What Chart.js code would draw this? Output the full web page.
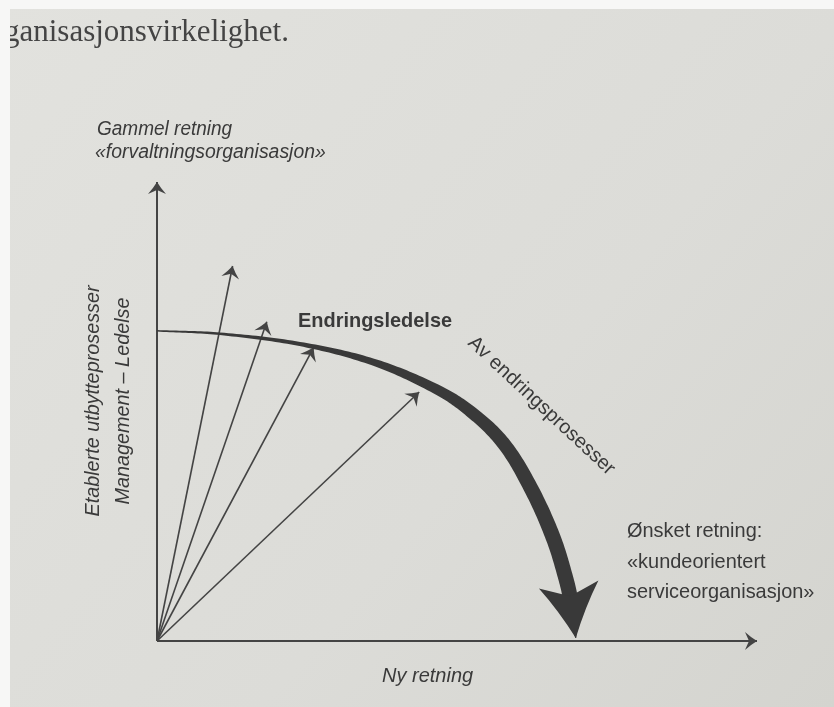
<!DOCTYPE html>
<html>
<head>
<meta charset="utf-8">
<script src="https://cdn.jsdelivr.net/npm/chart.js@4.4.0/dist/chart.umd.min.js"></script>
<style>
html, body { margin: 0; padding: 0; background: #dfdfdb; }
#wrap { width: 834px; height: 707px; position: relative; }
</style>
</head>
<body>
<div id="wrap"><canvas id="figur"></canvas></div>
<script>
// akser (lengde i skalaens enheter)
var aksX = [0, 100];
var aksY = [0, 76.5];
// tynne piler fra origo, endepunkt
var pilX = [12.6, 18.3, 26.1, 43.7];
var pilY = [62.5, 53.2, 48.9, 41.5];
// den tykke buede pilen (endringsprosesser)
var kurveX = [0, 10.5, 23.8, 36, 46.5, 52.2, 57.7, 62.2, 66, 68.2, 69, 69.8];
var kurveY = [51.7, 51.2, 49.5, 46.5, 42, 38.3, 33, 25.7, 17.3, 10.2, 6.5, 0.5];
// tekster
var tittel = 'ganisasjonsvirkelighet.';
var yTekst = ['Gammel retning', '\u00abforvaltningsorganisasjon\u00bb'];
var yAkseTekst = ['Etablerte utbytteprosesser', 'Management \u2013 Ledelse'];
var kurveTekst = 'Endringsledelse';
var prosessTekst = 'Av endringsprosesser';
var maalTekst = ['\u00d8nsket retning:', '\u00abkundeorientert', 'serviceorganisasjon\u00bb'];
var xTekst = 'Ny retning';

// strektykkelse (px) i hvert kurvepunkt
var kurveBredde = [1.6, 2.6, 4.2, 7, 10, 12, 13.5, 14.5, 15, 15, 15, 1];

var strek = '#444444';
var mork = '#393939';
var tekstFarge = '#3a3a3a';

function punkter(xs, ys) {
  return xs.map(function(x, i) { return {x: x, y: ys[i]}; });
}

var datasets = [];
datasets.push({ data: [{x: aksX[0], y: 0}, {x: aksX[1], y: 0}], borderColor: strek, borderWidth: 2, spiss: {l: 12, b: 9, h: 4} });
datasets.push({ data: [{x: 0, y: aksY[0]}, {x: 0, y: aksY[1]}], borderColor: strek, borderWidth: 2, spiss: {l: 12, b: 9, h: 4} });
pilX.forEach(function(x, i) {
  datasets.push({ data: [{x: 0, y: 0}, {x: x, y: pilY[i]}], borderColor: strek, borderWidth: 1.6, spiss: {l: 12, b: 9, h: 4} });
});
datasets.push({
  data: punkter(kurveX, kurveY),
  borderColor: mork,
  borderWidth: 0,
  tension: 0.35,
  baand: kurveBredde,
  spiss: {l: 54, b: 30, h: 12}
});
datasets.forEach(function(d) {
  d.showLine = true;
  d.pointRadius = 0;
  d.pointHoverRadius = 0;
  d.clip = false;
  d.fill = false;
});

function pilspiss(ctx, x, y, vinkel, s, farge) {
  ctx.save();
  ctx.translate(x, y);
  ctx.rotate(vinkel);
  ctx.beginPath();
  ctx.moveTo(0, 0);
  ctx.quadraticCurveTo(-s.l * 0.55, s.b * 0.45, -s.l, s.b);
  ctx.lineTo(-s.l + s.h, 0);
  ctx.lineTo(-s.l, -s.b);
  ctx.quadraticCurveTo(-s.l * 0.55, -s.b * 0.45, 0, 0);
  ctx.closePath();
  ctx.fillStyle = farge;
  ctx.fill();
  ctx.restore();
}

// tykkelse som vokser langs linjen: følg bezier-kurvene som Chart.js har regnet ut
function baand(ctx, pts, bredde, farge) {
  var venstre = [], hoyre = [];
  for (var i = 0; i < pts.length - 1; i++) {
    var a = pts[i], b = pts[i + 1];
    var c1x = a.cp2x !== undefined ? a.cp2x : a.x, c1y = a.cp2y !== undefined ? a.cp2y : a.y;
    var c2x = b.cp1x !== undefined ? b.cp1x : b.x, c2y = b.cp1y !== undefined ? b.cp1y : b.y;
    for (var k = 0; k <= 20; k++) {
      if (i > 0 && k === 0) continue;
      var t = k / 20, u = 1 - t;
      var x = u*u*u*a.x + 3*u*u*t*c1x + 3*u*t*t*c2x + t*t*t*b.x;
      var y = u*u*u*a.y + 3*u*u*t*c1y + 3*u*t*t*c2y + t*t*t*b.y;
      var dx = 3*u*u*(c1x - a.x) + 6*u*t*(c2x - c1x) + 3*t*t*(b.x - c2x);
      var dy = 3*u*u*(c1y - a.y) + 6*u*t*(c2y - c1y) + 3*t*t*(b.y - c2y);
      var n = Math.sqrt(dx*dx + dy*dy) || 1;
      var w = (bredde[i] + (bredde[i + 1] - bredde[i]) * t) / 2;
      venstre.push([x - dy / n * w, y + dx / n * w]);
      hoyre.push([x + dy / n * w, y - dx / n * w]);
    }
  }
  ctx.save();
  ctx.beginPath();
  ctx.moveTo(venstre[0][0], venstre[0][1]);
  venstre.forEach(function(p) { ctx.lineTo(p[0], p[1]); });
  for (var j = hoyre.length - 1; j >= 0; j--) ctx.lineTo(hoyre[j][0], hoyre[j][1]);
  ctx.closePath();
  ctx.fillStyle = farge;
  ctx.fill();
  ctx.restore();
}

function tekst(ctx, s, x, y, font, opt) {
  opt = opt || {};
  ctx.save();
  ctx.translate(x, y);
  if (opt.rot) ctx.rotate(opt.rot);
  ctx.scale(opt.sx || 1, 1);
  ctx.font = font;
  ctx.fillStyle = opt.farge || tekstFarge;
  ctx.textAlign = opt.align || 'left';
  ctx.textBaseline = 'alphabetic';
  ctx.fillText(s, 0, 0);
  ctx.restore();
}

var figurPlugin = {
  id: 'figur',
  beforeDraw: function(chart) {
    var ctx = chart.ctx;
    var g = ctx.createLinearGradient(0, 0, chart.width, chart.height);
    g.addColorStop(0, '#e2e2de');
    g.addColorStop(0.6, '#dcdcd8');
    g.addColorStop(1, '#d4d4cf');
    ctx.save();
    ctx.fillStyle = g;
    ctx.fillRect(0, 0, chart.width, chart.height);
    ctx.restore();
  },
  afterDatasetsDraw: function(chart) {
    var ctx = chart.ctx;
    chart.data.datasets.forEach(function(d, i) {
      var pts = chart.getDatasetMeta(i).data;
      if (d.baand) baand(ctx, pts, d.baand, d.borderColor);
      if (!d.spiss) return;
      var a = pts[pts.length - 2], b = pts[pts.length - 1];
      var v = Math.atan2(b.y - a.y, b.x - a.x);
      pilspiss(ctx, b.x, b.y, v, d.spiss, d.borderColor);
    });
  },
  afterDraw: function(chart) {
    var ctx = chart.ctx;
    var sans = '"Liberation Sans", Arial, sans-serif';
    tekst(ctx, tittel, 4, 41, '31px "Liberation Serif", serif', {farge: '#444444'});
    // hvit kant fra fotografiet
    ctx.save();
    ctx.fillStyle = '#f7f7f6';
    ctx.fillRect(0, 0, chart.width, 9);
    ctx.fillRect(0, 0, 10, chart.height);
    ctx.restore();

    tekst(ctx, yTekst[0], 97, 135, 'italic 20px ' + sans, {sx: 0.95});
    tekst(ctx, yTekst[1], 95, 158, 'italic 20px ' + sans, {sx: 0.97});
    tekst(ctx, yAkseTekst[0], 99, 401, 'italic 20px ' + sans, {rot: -Math.PI / 2, align: 'center', sx: 0.99});
    tekst(ctx, yAkseTekst[1], 129, 401, 'italic 20px ' + sans, {rot: -Math.PI / 2, align: 'center', sx: 0.99});
    tekst(ctx, kurveTekst, 298, 327, 'bold 21px ' + sans, {sx: 0.95});
    tekst(ctx, prosessTekst, 467, 344, '20px ' + sans, {rot: 43 * Math.PI / 180});
    maalTekst.forEach(function(s, i) {
      tekst(ctx, s, 627, 537 + i * 30.5, '21px ' + sans, {sx: 0.95});
    });
    tekst(ctx, xTekst, 382, 682, 'italic 20px ' + sans);
  }
};

new Chart(document.getElementById('figur'), {
  type: 'scatter',
  data: { datasets: datasets },
  options: {
    responsive: true,
    maintainAspectRatio: false,
    animation: false,
    events: [],
    layout: { padding: { left: 157, right: 77, top: 161, bottom: 66 } },
    scales: {
      x: { type: 'linear', min: 0, max: 100, display: false },
      y: { type: 'linear', min: 0, max: 80, display: false }
    },
    plugins: { legend: { display: false }, tooltip: { enabled: false } }
  },
  plugins: [figurPlugin]
});
</script>
</body>
</html>
